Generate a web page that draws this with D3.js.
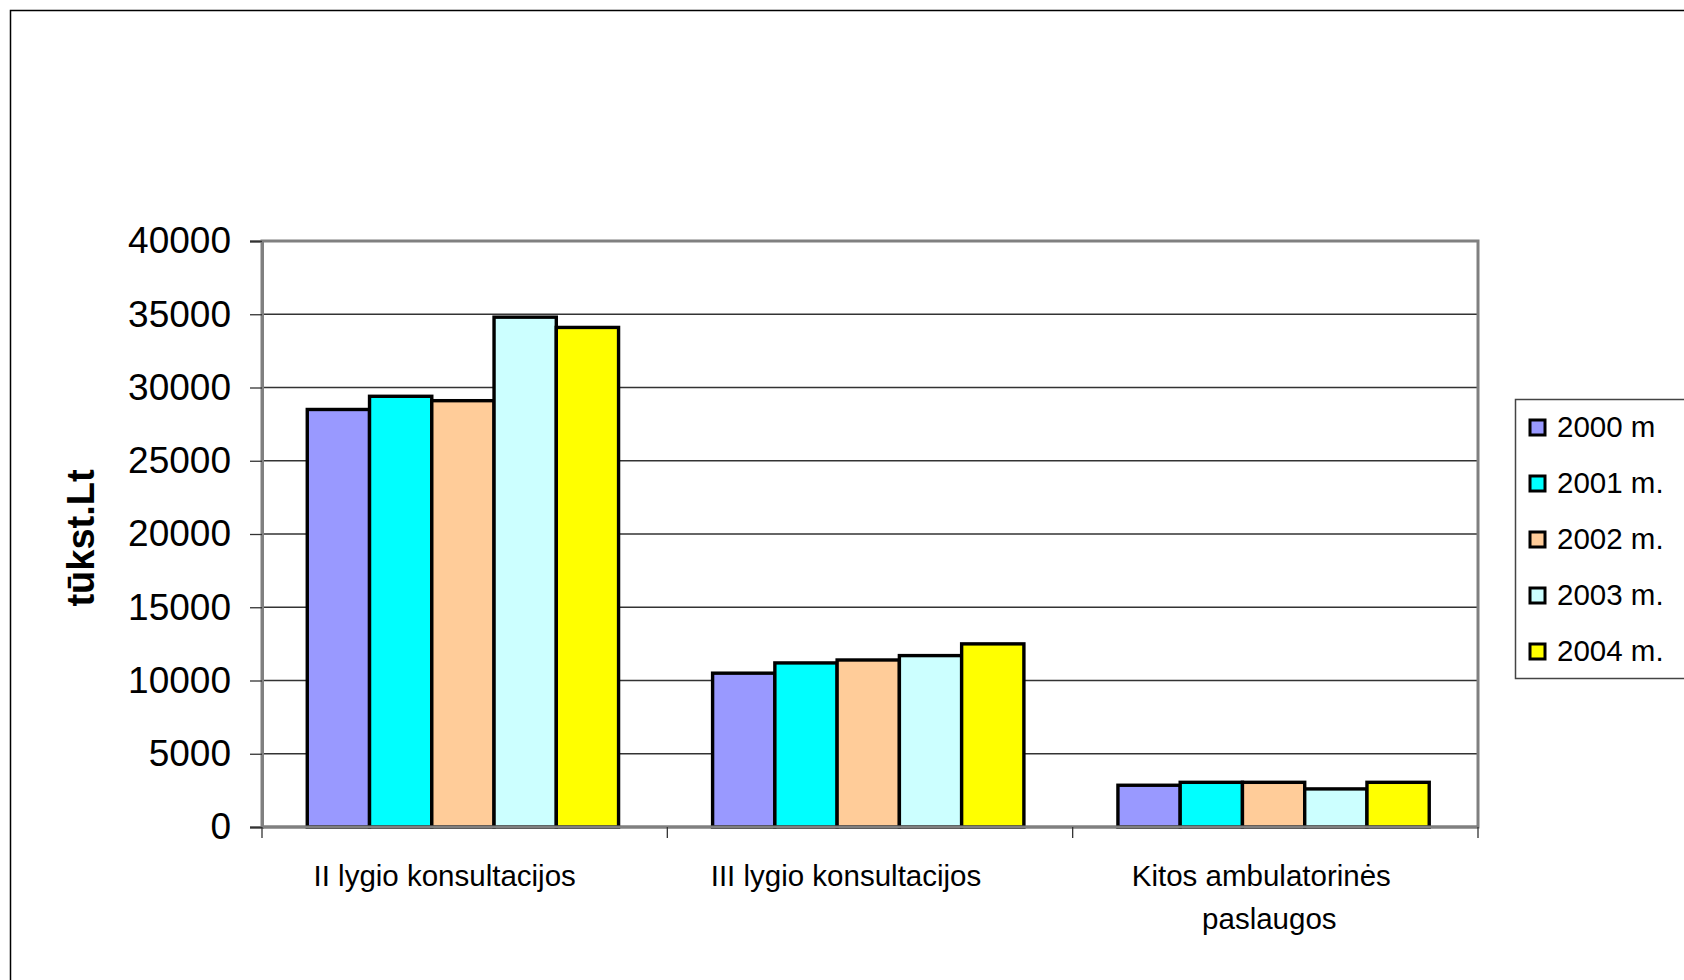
<!DOCTYPE html>
<html>
<head>
<meta charset="utf-8">
<script src="https://cdn.jsdelivr.net/npm/d3@7"></script>
<style>
  html, body { margin: 0; padding: 0; background: #fff; }
  svg { display: block; }
  text { font-family: "Liberation Sans", Arial, sans-serif; fill: #000; }
</style>
</head>
<body>
<svg id="chart" width="1684" height="980"></svg>
<script>
// ---- data ----
const categories = [["II lygio konsultacijos"], ["III lygio konsultacijos"], ["Kitos ambulatorinės", "paslaugos"]];
const seriesNames = ["2000 m", "2001 m.", "2002 m.", "2003 m.", "2004 m."];
const seriesColors = ["#9999FF", "#00FFFF", "#FFCC99", "#CCFFFF", "#FFFF00"];
const values2000 = [28500, 10500, 2850];
const values2001 = [29400, 11200, 3050];
const values2002 = [29100, 11400, 3050];
const values2003 = [34800, 11700, 2600];
const values2004 = [34100, 12500, 3050];
const yTicks = [0, 5000, 10000, 15000, 20000, 25000, 30000, 35000, 40000];
const yTitle = "tūkst.Lt";

const seriesValues = [values2000, values2001, values2002, values2003, values2004];
const catKeys = categories.map((c, i) => "c" + i);

// ---- layout ----
const svg = d3.select("#chart");
const L = 262, R = 1478, T = 241, B = 827;
const labelShift = [[-20], [-24], [-14, -6]];

// outer border
svg.append("rect").attr("x", 10.5).attr("y", 10.5).attr("width", 1700).attr("height", 1000)
  .attr("fill", "none").attr("stroke", "#000").attr("stroke-width", 1.5);

const x0 = d3.scaleBand().domain(catKeys).range([L, R]).paddingInner(0).paddingOuter(0);
const bw = x0.bandwidth();
const gap = bw * 1.5 / 6.5;
const x1 = d3.scaleBand().domain(d3.range(seriesNames.length)).range([gap / 2 - 1.5, bw - gap / 2 - 2]).padding(0);
const y = d3.scaleLinear().domain([0, 40000]).range([B, T]);

// gridlines
svg.append("g").selectAll("line").data(yTicks.filter(t => t > 0 && t < 40000)).join("line")
  .attr("x1", L).attr("x2", R).attr("y1", d => y(d)).attr("y2", d => y(d))
  .attr("stroke", "#333").attr("stroke-width", 1.4);

// plot frame
svg.append("rect").attr("x", L).attr("y", T).attr("width", R - L).attr("height", B - T)
  .attr("fill", "none").attr("stroke", "#808080").attr("stroke-width", 3);

// bars
const g = svg.append("g");
catKeys.forEach((k, ci) => {
  g.append("g").attr("transform", `translate(${x0(k)},0)`)
    .selectAll("rect").data(seriesValues.map((s, si) => ({ si, v: s[ci] }))).join("rect")
    .attr("x", d => x1(d.si)).attr("width", x1.bandwidth())
    .attr("y", d => y(d.v)).attr("height", d => y(0) - y(d.v))
    .attr("fill", d => seriesColors[d.si]).attr("stroke", "#000").attr("stroke-width", 3.4);
});

// y axis
const yAxis = d3.axisLeft(y).tickValues(yTicks).tickSize(12).tickPadding(19).tickFormat(d3.format("d"));
const ya = svg.append("g").attr("transform", `translate(${L},0)`).call(yAxis);
ya.select(".domain").attr("stroke", "#808080").attr("stroke-width", 3);
ya.selectAll(".tick line").attr("stroke", "#333").attr("stroke-width", 1.3);
ya.selectAll(".tick text").attr("font-size", 37).attr("font-family", "Liberation Sans, Arial, sans-serif").attr("fill", "#000");

// x axis ticks at category boundaries
const xb = catKeys.map(k => x0(k)).concat([R]);
const xa = svg.append("g");
xa.append("line").attr("x1", L).attr("x2", R).attr("y1", B).attr("y2", B).attr("stroke", "#808080").attr("stroke-width", 3);
xa.selectAll("line.t").data(xb).join("line").attr("class", "t")
  .attr("x1", d => d).attr("x2", d => d).attr("y1", B).attr("y2", B + 11)
  .attr("stroke", "#333").attr("stroke-width", 1.3);

// x labels
catKeys.forEach((k, ci) => {
  const t = svg.append("text").attr("text-anchor", "middle").attr("font-size", 29.5);
  categories[ci].forEach((line, li) => {
    t.append("tspan").attr("x", x0(k) + bw / 2 + labelShift[ci][li]).attr("y", 886 + li * 43).text(line);
  });
});

// y title
svg.append("text").attr("transform", "translate(94,538) rotate(-90)")
  .attr("text-anchor", "middle").attr("font-size", 38).attr("font-weight", "bold").text(yTitle);

// legend
const lg = svg.append("g");
lg.append("rect").attr("x", 1515.5).attr("y", 399.5).attr("width", 250).attr("height", 279)
  .attr("fill", "#fff").attr("stroke", "#444").attr("stroke-width", 1.5);
seriesNames.forEach((n, i) => {
  const cy = 427 + i * 56;
  lg.append("rect").attr("x", 1530).attr("y", cy - 7).attr("width", 15).attr("height", 15)
    .attr("fill", seriesColors[i]).attr("stroke", "#000").attr("stroke-width", 3);
  lg.append("text").attr("x", 1557).attr("y", cy + 10).attr("font-size", 29.5).text(n);
});
</script>
</body>
</html>
